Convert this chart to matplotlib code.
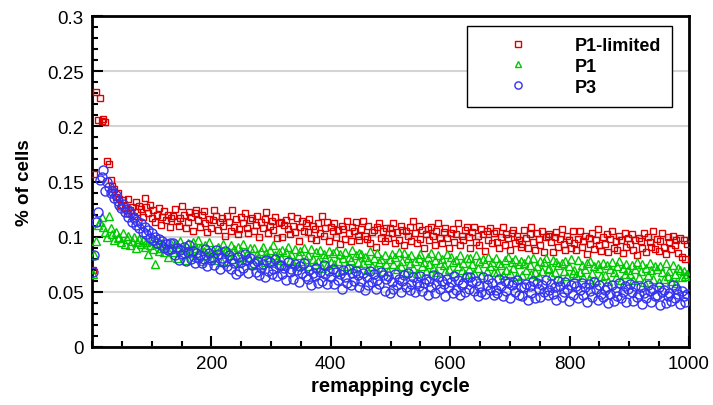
import numpy as np
import matplotlib
matplotlib.use("Agg")
import matplotlib.pyplot as plt
from matplotlib.ticker import MultipleLocator

plt.rcParams['font.family'] = ['Liberation Sans', 'DejaVu Sans']

# remapping cycles sampled every 3rd cycle
cycle = np.arange(1, 1000, 3)

p1_limited = [
    0.070, 0.157, 0.231, 0.206, 0.226, 0.205, 0.207, 0.204, 0.169, 0.166, 0.151, 0.146, 0.143, 0.136, 0.140,
    0.134, 0.129, 0.133, 0.126, 0.121, 0.134, 0.124, 0.127, 0.119, 0.131, 0.122, 0.128, 0.125, 0.118, 0.135,
    0.127, 0.121, 0.129, 0.117, 0.124, 0.113, 0.120, 0.126, 0.111, 0.118, 0.123, 0.115, 0.120, 0.109, 0.117,
    0.119, 0.125, 0.114, 0.110, 0.117, 0.128, 0.120, 0.108, 0.113, 0.122, 0.118, 0.105, 0.121, 0.124, 0.115,
    0.109, 0.120, 0.123, 0.112, 0.104, 0.116, 0.108, 0.115, 0.124, 0.119, 0.106, 0.113, 0.117, 0.110, 0.101,
    0.119, 0.113, 0.105, 0.124, 0.109, 0.116, 0.102, 0.107, 0.118, 0.112, 0.121, 0.108, 0.103, 0.115, 0.117,
    0.105, 0.111, 0.119, 0.100, 0.113, 0.108, 0.116, 0.122, 0.103, 0.110, 0.114, 0.106, 0.118, 0.099, 0.112,
    0.113, 0.100, 0.111, 0.115, 0.107, 0.102, 0.119, 0.110, 0.104, 0.117, 0.096, 0.109, 0.114, 0.105, 0.112,
    0.104, 0.116, 0.099, 0.110, 0.107, 0.097, 0.112, 0.103, 0.119, 0.101, 0.108, 0.113, 0.096, 0.109, 0.105,
    0.112, 0.100, 0.106, 0.093, 0.110, 0.107, 0.098, 0.114, 0.103, 0.096, 0.109, 0.105, 0.113, 0.101, 0.097,
    0.107, 0.114, 0.101, 0.098, 0.110, 0.094, 0.104, 0.106, 0.091, 0.109, 0.112, 0.099, 0.105, 0.096, 0.108,
    0.099, 0.108, 0.103, 0.112, 0.094, 0.104, 0.097, 0.110, 0.106, 0.092, 0.105, 0.101, 0.109, 0.096, 0.114,
    0.103, 0.094, 0.110, 0.098, 0.106, 0.090, 0.102, 0.107, 0.097, 0.109, 0.101, 0.092, 0.105, 0.112, 0.099,
    0.094, 0.104, 0.108, 0.099, 0.090, 0.103, 0.107, 0.095, 0.102, 0.112, 0.092, 0.101, 0.097, 0.106, 0.109,
    0.100, 0.090, 0.104, 0.109, 0.095, 0.101, 0.092, 0.107, 0.102, 0.087, 0.105, 0.097, 0.108, 0.094, 0.103,
    0.105, 0.095, 0.090, 0.100, 0.109, 0.092, 0.102, 0.099, 0.088, 0.103, 0.106, 0.094, 0.101, 0.097, 0.091,
    0.093, 0.106, 0.099, 0.090, 0.102, 0.109, 0.095, 0.088, 0.103, 0.098, 0.092, 0.105, 0.086, 0.100, 0.101,
    0.102, 0.095, 0.086, 0.100, 0.104, 0.091, 0.098, 0.107, 0.093, 0.088, 0.101, 0.097, 0.090, 0.105, 0.094,
    0.088, 0.098, 0.105, 0.091, 0.096, 0.101, 0.084, 0.099, 0.093, 0.103, 0.089, 0.097, 0.107, 0.092, 0.087,
    0.100, 0.093, 0.102, 0.086, 0.098, 0.105, 0.090, 0.096, 0.088, 0.101, 0.097, 0.085, 0.103, 0.091, 0.099,
    0.093, 0.102, 0.088, 0.097, 0.083, 0.099, 0.096, 0.090, 0.103, 0.086, 0.100, 0.095, 0.091, 0.105, 0.089,
    0.098, 0.087, 0.096, 0.103, 0.091, 0.084, 0.100, 0.095, 0.089, 0.101, 0.092, 0.097, 0.085, 0.099, 0.082,
    0.097, 0.080, 0.093,
]

p1 = [
    0.066, 0.083, 0.096, 0.111, 0.113, 0.118, 0.109, 0.104, 0.100, 0.119, 0.108, 0.102, 0.097, 0.104, 0.099,
    0.100, 0.095, 0.103, 0.093, 0.098, 0.101, 0.092, 0.096, 0.100, 0.090, 0.095, 0.098, 0.093, 0.097, 0.091,
    0.095, 0.084, 0.092, 0.096, 0.089, 0.075, 0.093, 0.087, 0.090, 0.094, 0.086, 0.091, 0.082, 0.089, 0.093,
    0.086, 0.093, 0.081, 0.091, 0.096, 0.084, 0.089, 0.079, 0.094, 0.088, 0.085, 0.095, 0.082, 0.090, 0.097,
    0.090, 0.078, 0.087, 0.092, 0.083, 0.095, 0.081, 0.088, 0.085, 0.079, 0.091, 0.089, 0.077, 0.093, 0.086,
    0.078, 0.086, 0.092, 0.080, 0.089, 0.083, 0.091, 0.076, 0.087, 0.093, 0.079, 0.085, 0.082, 0.090, 0.075,
    0.090, 0.080, 0.084, 0.074, 0.087, 0.091, 0.077, 0.085, 0.082, 0.088, 0.076, 0.092, 0.083, 0.079, 0.086,
    0.081, 0.088, 0.074, 0.086, 0.091, 0.079, 0.084, 0.076, 0.089, 0.073, 0.083, 0.087, 0.078, 0.090, 0.080,
    0.083, 0.073, 0.089, 0.080, 0.075, 0.086, 0.078, 0.088, 0.072, 0.084, 0.081, 0.074, 0.087, 0.077, 0.085,
    0.075, 0.087, 0.078, 0.084, 0.070, 0.081, 0.086, 0.073, 0.082, 0.079, 0.088, 0.072, 0.083, 0.077, 0.085,
    0.084, 0.076, 0.082, 0.070, 0.079, 0.087, 0.073, 0.081, 0.071, 0.085, 0.077, 0.080, 0.069, 0.083, 0.075,
    0.069, 0.080, 0.084, 0.075, 0.082, 0.071, 0.086, 0.073, 0.078, 0.085, 0.068, 0.081, 0.076, 0.083, 0.072,
    0.078, 0.067, 0.081, 0.084, 0.073, 0.077, 0.069, 0.082, 0.075, 0.085, 0.072, 0.079, 0.068, 0.083, 0.076,
    0.080, 0.074, 0.069, 0.084, 0.071, 0.082, 0.077, 0.067, 0.079, 0.073, 0.083, 0.070, 0.076, 0.066, 0.081,
    0.071, 0.081, 0.075, 0.067, 0.083, 0.072, 0.078, 0.065, 0.080, 0.076, 0.069, 0.082, 0.073, 0.077, 0.068,
    0.081, 0.068, 0.076, 0.074, 0.065, 0.079, 0.070, 0.082, 0.067, 0.077, 0.072, 0.080, 0.064, 0.075, 0.078,
    0.065, 0.076, 0.070, 0.080, 0.074, 0.066, 0.081, 0.068, 0.073, 0.064, 0.078, 0.069, 0.077, 0.081, 0.071,
    0.072, 0.065, 0.079, 0.068, 0.077, 0.074, 0.062, 0.076, 0.069, 0.078, 0.064, 0.073, 0.080, 0.067, 0.070,
    0.065, 0.079, 0.068, 0.074, 0.063, 0.071, 0.076, 0.062, 0.078, 0.067, 0.073, 0.061, 0.075, 0.072, 0.064,
    0.076, 0.065, 0.074, 0.060, 0.071, 0.077, 0.068, 0.063, 0.073, 0.078, 0.061, 0.072, 0.066, 0.075, 0.070,
    0.066, 0.074, 0.061, 0.071, 0.077, 0.063, 0.069, 0.075, 0.059, 0.072, 0.065, 0.076, 0.070, 0.062, 0.073,
    0.071, 0.059, 0.073, 0.068, 0.062, 0.076, 0.064, 0.069, 0.060, 0.074, 0.066, 0.058, 0.072, 0.070, 0.063,
    0.069, 0.064, 0.066,
]

p3 = [
    0.068, 0.083, 0.113, 0.122, 0.151, 0.154, 0.160, 0.141, 0.150, 0.145, 0.140, 0.141, 0.135, 0.138, 0.132,
    0.129, 0.126, 0.130, 0.122, 0.125, 0.118, 0.121, 0.113, 0.117, 0.111, 0.114, 0.108, 0.112, 0.104, 0.109,
    0.102, 0.106, 0.099, 0.103, 0.097, 0.100, 0.094, 0.098, 0.092, 0.096, 0.090, 0.093, 0.088, 0.094, 0.089,
    0.094, 0.083, 0.090, 0.079, 0.088, 0.084, 0.091, 0.078, 0.086, 0.092, 0.080, 0.087, 0.076, 0.085, 0.081,
    0.083, 0.076, 0.080, 0.089, 0.073, 0.085, 0.079, 0.082, 0.074, 0.088, 0.084, 0.071, 0.081, 0.077, 0.087,
    0.073, 0.083, 0.071, 0.080, 0.076, 0.066, 0.082, 0.069, 0.077, 0.072, 0.084, 0.079, 0.067, 0.081, 0.074,
    0.076, 0.068, 0.078, 0.065, 0.072, 0.075, 0.063, 0.079, 0.069, 0.077, 0.066, 0.071, 0.080, 0.064, 0.074,
    0.074, 0.066, 0.072, 0.061, 0.077, 0.068, 0.071, 0.062, 0.075, 0.070, 0.059, 0.073, 0.067, 0.076, 0.064,
    0.062, 0.070, 0.056, 0.067, 0.064, 0.072, 0.058, 0.068, 0.060, 0.074, 0.066, 0.057, 0.069, 0.063, 0.071,
    0.057, 0.068, 0.061, 0.066, 0.053, 0.070, 0.063, 0.058, 0.071, 0.056, 0.067, 0.060, 0.069, 0.065, 0.054,
    0.060, 0.067, 0.052, 0.063, 0.056, 0.069, 0.059, 0.066, 0.053, 0.061, 0.057, 0.068, 0.065, 0.051, 0.062,
    0.064, 0.049, 0.059, 0.053, 0.066, 0.056, 0.062, 0.050, 0.060, 0.065, 0.054, 0.067, 0.052, 0.057, 0.063,
    0.050, 0.059, 0.055, 0.064, 0.051, 0.058, 0.062, 0.047, 0.060, 0.054, 0.065, 0.049, 0.057, 0.063, 0.053,
    0.060, 0.057, 0.046, 0.062, 0.054, 0.059, 0.049, 0.064, 0.052, 0.061, 0.047, 0.056, 0.058, 0.050, 0.063,
    0.053, 0.063, 0.059, 0.051, 0.060, 0.046, 0.055, 0.050, 0.063, 0.048, 0.056, 0.062, 0.052, 0.058, 0.047,
    0.052, 0.049, 0.062, 0.055, 0.046, 0.060, 0.051, 0.058, 0.044, 0.056, 0.059, 0.050, 0.061, 0.047, 0.054,
    0.046, 0.054, 0.057, 0.043, 0.055, 0.049, 0.060, 0.044, 0.058, 0.053, 0.045, 0.056, 0.050, 0.061, 0.047,
    0.052, 0.057, 0.048, 0.054, 0.043, 0.060, 0.055, 0.045, 0.050, 0.059, 0.053, 0.042, 0.056, 0.047, 0.058,
    0.055, 0.044, 0.052, 0.058, 0.047, 0.054, 0.041, 0.057, 0.051, 0.045, 0.059, 0.053, 0.043, 0.056, 0.048,
    0.045, 0.052, 0.054, 0.040, 0.048, 0.056, 0.042, 0.051, 0.046, 0.058, 0.044, 0.050, 0.055, 0.041, 0.053,
    0.057, 0.050, 0.042, 0.055, 0.045, 0.048, 0.054, 0.039, 0.049, 0.044, 0.056, 0.051, 0.041, 0.053, 0.046,
    0.047, 0.054, 0.038, 0.050, 0.052, 0.040, 0.046, 0.049, 0.042, 0.056, 0.044, 0.053, 0.048, 0.039, 0.051,
    0.046, 0.041, 0.048,
]

labels = ['P1-limited', 'P1', 'P3']
colors = ['#dd0000', '#00c800', '#3232f0']
markers = ['s', '^', 'o']
msizes = [5.0, 5.5, 6.5]

fig = plt.figure(figsize=(7.13, 4.06), dpi=100)
ax = fig.add_axes([92 / 713, 58 / 406, 597 / 713, 331 / 406])

for y, lab, c, m, ms in zip([p1_limited, p1, p3], labels, colors, markers, msizes):
    ax.plot(cycle, y, linestyle='none', marker=m, markersize=ms,
            markerfacecolor='none', markeredgecolor=c, markeredgewidth=1.0,
            label=lab, zorder=3)

ax.set_xlim(0, 1000)
ax.set_ylim(0, 0.3)
ax.xaxis.set_minor_locator(MultipleLocator(50))
ax.yaxis.set_minor_locator(MultipleLocator(0.01))
ax.set_xticks([200, 400, 600, 800, 1000])
ax.set_yticks([0, 0.05, 0.1, 0.15, 0.2, 0.25, 0.3])
ax.set_yticklabels(['0', '0.05', '0.1', '0.15', '0.2', '0.25', '0.3'])

ax.grid(axis='y', which='major', color='#d4d4d4', linewidth=1.5, zorder=0)
ax.set_axisbelow(True)

ax.tick_params(which='both', direction='in', top=False, right=False,
               labelsize=13.5, width=1.5, pad=6)
ax.tick_params(which='major', length=8)
ax.tick_params(which='minor', length=4.5)
for s in ax.spines.values():
    s.set_linewidth(2)

ax.set_xlabel('remapping cycle', fontsize=14.5, fontweight='bold', labelpad=3)
ax.set_ylabel('% of cells', fontsize=13.5, fontweight='bold', labelpad=10)

# legend box spans roughly x 469..672, y 27..104 in pixels
leg = ax.legend(loc='upper right', bbox_to_anchor=(0.9715, 0.9698),
                borderaxespad=0, frameon=True, fancybox=False,
                edgecolor='black', framealpha=1, markerscale=0.8,
                handlelength=4.45, handletextpad=0.9, borderpad=0.6,
                labelspacing=0.22, prop={'weight': 'bold', 'size': 13})
leg.get_frame().set_linewidth(1.0)

fig.savefig('out.png', dpi=100)
